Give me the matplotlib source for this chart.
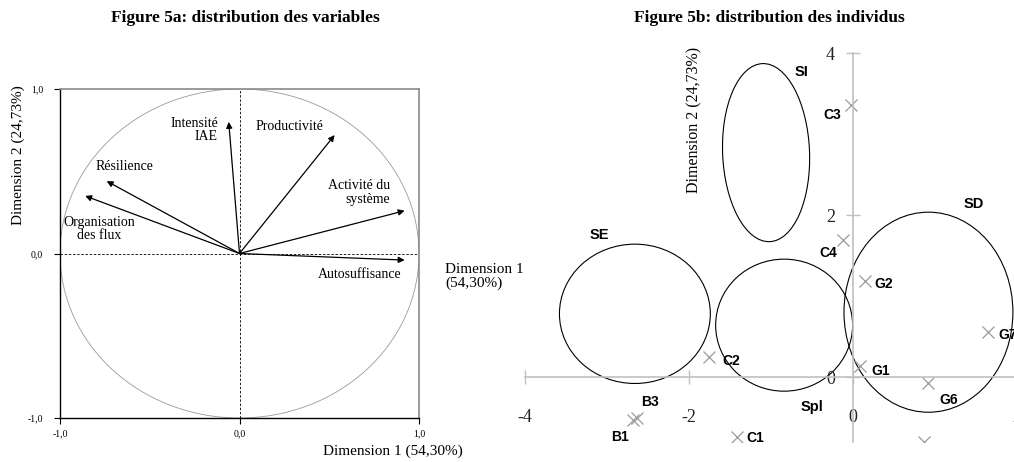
import matplotlib
matplotlib.use('Agg')
import matplotlib.pyplot as plt
from matplotlib.patches import Ellipse, Circle

# Figure 5a : variables (coordonnees sur dim 1 / dim 2)
var_names = ['Intensité\nIAE', 'Productivité', 'Résilience', 'Organisation\ndes flux',
             'Activité du\nsystème', 'Autosuffisance']
var_dim1 = [-0.06, 0.53, -0.74, -0.86, 0.92, 0.92]
var_dim2 = [0.80, 0.72, 0.44, 0.35, 0.26, -0.04]

# Figure 5b : individus
ind_names = ['C3', 'C4', 'G2', 'G7', 'C2', 'G1', 'G6', 'B3', 'B1', 'C1', '']
ind_dim1 = [-0.02, -0.12, 0.15, 1.65, -1.76, 0.09, 0.92, -2.64, -2.68, -1.41, 0.86]
ind_dim2 = [3.36, 1.69, 1.18, 0.56, 0.25, 0.13, -0.08, -0.50, -0.53, -0.74, -0.80]

# groupes (ellipses)
grp_names = ['SI', 'SD', 'SE', 'Spl']
grp_cx = [-1.06, 0.92, -2.66, -0.84]
grp_cy = [2.77, 0.80, 0.78, 0.64]
grp_w = [1.06, 2.06, 1.84, 1.67]
grp_h = [2.20, 2.47, 1.72, 1.63]
grp_angle = [2.3, 0, 0, 0]

# position des etiquettes (mise en page)
var_lab = [(-0.12, 0.75, 'right'), (0.28, 0.77, 'center'), (-0.64, 0.53, 'center'),
           (-0.78, 0.15, 'center'), (0.84, 0.37, 'right'), (0.67, -0.13, 'center')]
ind_off = [(-19, -10), (-15, -13), (18, -3), (19, -3), (23, -4), (20, -5),
           (20, -17), (13, 15), (-13, -17), (18, -1), (0, 0)]
grp_lab = [(-0.63, 3.77), (1.47, 2.14), (-3.09, 1.75), (-0.50, -0.37)]

serif = 'Liberation Serif'
sans = 'Liberation Sans'

fig = plt.figure(figsize=(10.14, 4.62), dpi=100)
W, H = 1014, 462

# ---------------- figure 5a
ax = fig.add_axes([60 / W, (H - 418) / H, 359 / W, 329 / H])
ax.set_xlim(-1, 1)
ax.set_ylim(-1, 1)
ax.add_patch(Circle((0, 0), 1, fill=False, ec='#9a9a9a', lw=0.6))
ax.axhline(0, color='black', ls=(0, (3, 2)), lw=0.6)
ax.axvline(0, color='black', ls=(0, (3, 2)), lw=0.6)
for x, y in zip(var_dim1, var_dim2):
    ax.annotate('', xy=(x, y), xytext=(0, 0),
                arrowprops=dict(arrowstyle='-|>', color='black', lw=0.9,
                                mutation_scale=9, shrinkA=0, shrinkB=0))
for name, (lx, ly, ha) in zip(var_names, var_lab):
    ax.text(lx, ly, name, ha=ha, va='center', family=serif, fontsize=10,
            multialignment=ha, linespacing=1.05)

for s in ['left', 'bottom']:
    ax.spines[s].set_color('black')
    ax.spines[s].set_linewidth(1.0)
for s in ['top', 'right']:
    ax.spines[s].set_color('#8a8a8a')
    ax.spines[s].set_linewidth(1.2)
ax.set_xticks([-1, 0, 1])
ax.set_yticks([-1, 0, 1])
ax.set_xticklabels(['-1,0', '0,0', '1,0'], family=serif, fontsize=7)
ax.set_yticklabels(['-1,0', '0,0', '1,0'], family=serif, fontsize=7)
ax.tick_params(length=4, width=0.8, pad=4)
ax.tick_params(axis='y', pad=8)

ax.text(-1.233, 0.60, 'Dimension 2 (24,73%)', rotation=90, ha='center', va='center',
        family=serif, fontsize=11)
ax.text(1.146, -0.14, 'Dimension 1\n(54,30%)', ha='left', va='center', family=serif,
        fontsize=11, clip_on=False, linespacing=1.1)
ax.text(1.246, -1.204, 'Dimension 1 (54,30%)', ha='right', va='center', family=serif,
        fontsize=11, clip_on=False)
fig.text(245 / W, 1 - 18 / H, 'Figure 5a: distribution des variables', ha='center',
         va='center', family=serif, fontsize=12.5, weight='bold')

# ---------------- figure 5b
bx = fig.add_axes([500 / W, (H - 442) / H, 530 / W, 402 / H])
bx.set_facecolor('none')
bx.set_xlim((500 - 853) / 82, (1030 - 853) / 82)
bx.set_ylim((377 - 442) / 81, (377 - 40) / 81)
for n, cx, cy, w, h, a in zip(grp_names, grp_cx, grp_cy, grp_w, grp_h, grp_angle):
    bx.add_patch(Ellipse((cx, cy), w, h, angle=a, fill=False, ec='black', lw=0.8))
for n, (lx, ly) in zip(grp_names, grp_lab):
    bx.text(lx, ly, n, ha='center', va='center', family=sans, weight='bold',
            fontsize=10.5)

bx.plot(ind_dim1, ind_dim2, ls='none', marker='x', color='#9a9a9a', ms=8, mew=0.9)
for n, x, y, (dx, dy) in zip(ind_names, ind_dim1, ind_dim2, ind_off):
    bx.annotate(n, (x, y), xytext=(dx, dy), textcoords='offset pixels', ha='center',
                va='center', family=sans, weight='bold', fontsize=10,
                annotation_clip=False).set_clip_on(True)

for s in ['top', 'right']:
    bx.spines[s].set_visible(False)
bx.spines['left'].set_position(('data', 0))
bx.spines['bottom'].set_position(('data', 0))
bx.spines['left'].set_bounds((377 - 442) / 81, 4)
bx.spines['bottom'].set_bounds(-4, 2.2)
for s in ['left', 'bottom']:
    bx.spines[s].set_color('#c0c0c0')
    bx.spines[s].set_linewidth(1.2)
bx.set_xticks([-4, -2, 0, 2])
bx.set_yticks([0, 2, 4])
bx.set_xticklabels(['-4', '-2', '0', '2'], family=serif, fontsize=13)
bx.set_yticklabels(['0', '2', '4'], family=serif, fontsize=13)
bx.tick_params(direction='inout', length=10, width=1.0, color='#c0c0c0',
               labelcolor='#222222')
bx.tick_params(axis='x', pad=18)
bx.tick_params(axis='y', pad=8)
bx.text(-1.93, 3.17, 'Dimension 2 (24,73%)', rotation=90, ha='center', va='center',
        family=serif, fontsize=11.5)
fig.text(769 / W, 1 - 18 / H, 'Figure 5b: distribution des individus', ha='center',
         va='center', family=serif, fontsize=12.5, weight='bold')

fig.savefig('out.png', dpi=100)
